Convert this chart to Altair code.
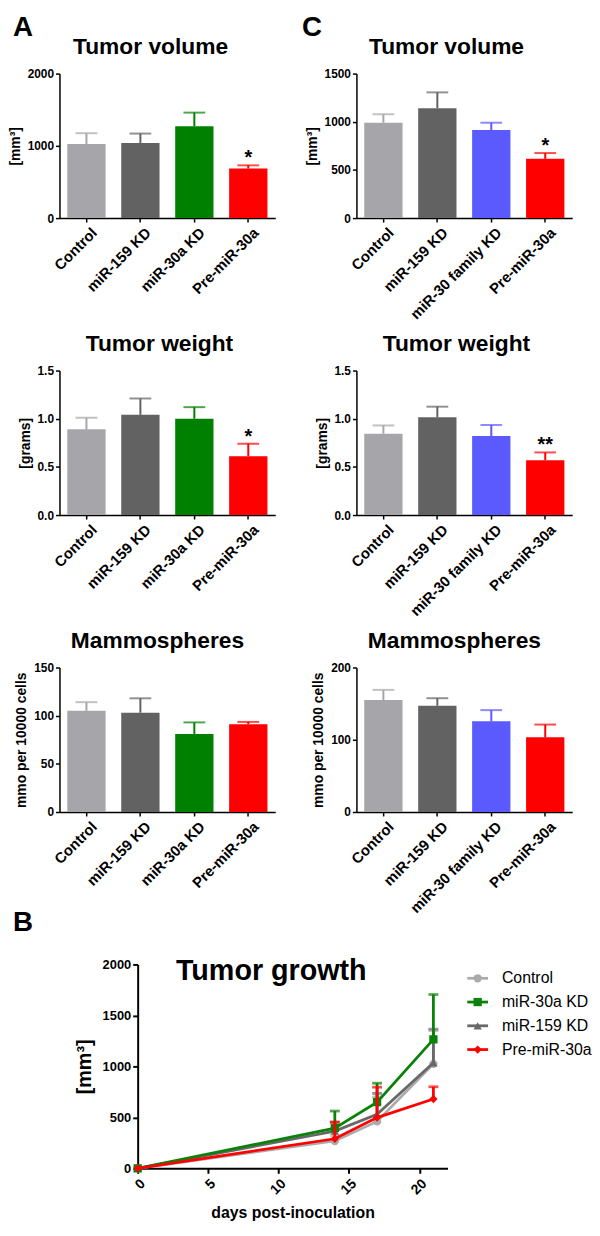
import altair as alt
import pandas as pd

FONT = "Liberation Sans"

# ---------------- data ----------------
groups_A = ["Control", "miR-159 KD", "miR-30a KD", "Pre-miR-30a"]
colors_A = ["#A6A6AA", "#626262", "#008000", "#FF0000"]
groups_C = ["Control", "miR-159 KD", "miR-30 family KD", "Pre-miR-30a"]
colors_C = ["#A6A6AA", "#626262", "#5A5AFF", "#FF0000"]

volA_mean = [1025, 1040, 1270, 685]
volA_upper = [1175, 1170, 1460, 730]
volA_sig = ["", "", "", "*"]
wtA_mean = [0.89, 1.04, 1.00, 0.61]
wtA_upper = [1.01, 1.21, 1.12, 0.74]
wtA_sig = ["", "", "", "*"]
mamA_mean = [105, 103, 81, 91]
mamA_upper = [114, 118, 93, 93.5]
mamA_sig = ["", "", "", ""]

volC_mean = [990, 1140, 915, 615]
volC_upper = [1078, 1305, 990, 675]
volC_sig = ["", "", "", "*"]
wtC_mean = [0.845, 1.015, 0.82, 0.57]
wtC_upper = [0.93, 1.125, 0.935, 0.65]
wtC_sig = ["", "", "", "**"]
mamC_mean = [155, 147, 125.5, 103.5]
mamC_upper = [169, 157.5, 141, 121]
mamC_sig = ["", "", "", ""]

days = [0, 14, 17, 21]
series_B = ["Control", "miR-30a KD", "miR-159 KD", "Pre-miR-30a"]
colors_B = ["#ABABAB", "#0A820A", "#686868", "#FF0000"]
shapes_B = ["circle", "square", "triangle-up", "diamond"]
ctrl_mean = [0, 268, 460, 1025]
ctrl_upper = [0, 320, 700, 1350]
kd30_mean = [0, 395, 650, 1265]
kd30_upper = [0, 562, 835, 1705]
kd159_mean = [0, 365, 530, 1035]
kd159_upper = [0, 450, 735, 1365]
pre_mean = [0, 290, 498, 680]
pre_upper = [0, 455, 796, 800]
draw_order_B = ["Control", "miR-159 KD", "miR-30a KD", "Pre-miR-30a"]


# ---------------- bar panels ----------------
def bar_panel(groups, colors, means, uppers, sigs, title, title_x, ymax, yticks,
              fmt, ytitle, letter=None, letter_x=-47):
    df = pd.DataFrame({"group": groups, "mean": means, "upper": uppers,
                       "sig": sigs, "col": colors})
    x = alt.X("group:N", sort=groups, title=None,
              scale=alt.Scale(paddingInner=0.29, paddingOuter=0.145),
              axis=alt.Axis(labelAngle=-45, labelAlign="right", labelBaseline="top",
                            labelFontSize=15, labelPadding=3, tickSize=4,
                            labelOffset=3, labelLimit=300))
    ys = alt.Scale(domain=[0, ymax], nice=False, zero=True)
    y = alt.Y("mean:Q", scale=ys, title=ytitle,
              axis=alt.Axis(values=yticks, format=fmt, labelFontSize=12,
                            labelOverlap=False, tickSize=4, labelPadding=2,
                            titleFontSize=14, titlePadding=5))
    fill = alt.Color("col:N", scale=None)
    base = alt.Chart(df)
    bars = base.mark_bar().encode(x=x, y=y, color=fill)
    whisk = base.mark_rule(strokeWidth=2).encode(x=x, y="mean:Q", y2="upper:Q", color=fill)
    cap = base.mark_tick(thickness=2, size=22).encode(x=x, y="upper:Q", color=fill)
    star = base.mark_text(fontSize=20, fontWeight="bold", font=FONT,
                          baseline="alphabetic", dy=-1, color="black").encode(
        x=x, y="upper:Q", text="sig:N")
    ttl = alt.Chart(pd.DataFrame({"t": [title]})).mark_text(
        font=FONT, fontSize=23, fontWeight="bold", align="center",
        baseline="middle", color="black").encode(
        x=alt.value(title_x), y=alt.value(-27), text="t:N")
    layers = [bars, whisk, cap, star, ttl]
    if letter:
        lt = alt.Chart(pd.DataFrame({"t": [letter]})).mark_text(
            font=FONT, fontSize=28, fontWeight="bold", align="left",
            baseline="top", color="black").encode(
            x=alt.value(letter_x), y=alt.value(-60), text="t:N")
        layers.append(lt)
    return alt.layer(*layers).properties(width=218, height=146)


A_vol = bar_panel(groups_A, colors_A, volA_mean, volA_upper, volA_sig, "Tumor volume", 92,
                  2000, [0, 500, 1000, 1500, 2000], "d", "[mm³]", letter="A", letter_x=-47)
C_vol = bar_panel(groups_C, colors_C, volC_mean, volC_upper, volC_sig, "Tumor volume", 91,
                  1500, [0, 500, 1000, 1500], "d", "[mm³]", letter="C", letter_x=-55)
A_wt = bar_panel(groups_A, colors_A, wtA_mean, wtA_upper, wtA_sig, "Tumor weight", 101,
                 1.5, [0, 0.5, 1.0, 1.5], ".1f", "[grams]")
C_wt = bar_panel(groups_C, colors_C, wtC_mean, wtC_upper, wtC_sig, "Tumor weight", 101,
                 1.5, [0, 0.5, 1.0, 1.5], ".1f", "[grams]")
A_mam = bar_panel(groups_A, colors_A, mamA_mean, mamA_upper, mamA_sig, "Mammospheres", 99,
                  150, [0, 50, 100, 150], "d", "mmo per 10000 cells")
C_mam = bar_panel(groups_C, colors_C, mamC_mean, mamC_upper, mamC_sig, "Mammospheres", 99,
                  200, [0, 50, 100, 150, 200], "d", "mmo per 10000 cells")

# ---------------- growth panel ----------------
means_B = {"Control": ctrl_mean, "miR-30a KD": kd30_mean,
           "miR-159 KD": kd159_mean, "Pre-miR-30a": pre_mean}
uppers_B = {"Control": ctrl_upper, "miR-30a KD": kd30_upper,
            "miR-159 KD": kd159_upper, "Pre-miR-30a": pre_upper}
rows = []
for s in series_B:
    for d, m, u in zip(days, means_B[s], uppers_B[s]):
        rows.append({"series": s, "day": d, "mean": m, "upper": u})
dfB = pd.DataFrame(rows)

xB = alt.X("day:Q", scale=alt.Scale(domain=[0, 22], range=[79, 392], nice=False),
           title="days post-inoculation",
           axis=alt.Axis(values=[0, 5, 10, 15, 20], labelAngle=-45, labelAlign="right",
                         labelBaseline="top", labelFontSize=14, tickSize=5, tickWidth=2,
                         domainWidth=2, labelPadding=3, titleFontSize=16, titlePadding=8))
yB = alt.Y("mean:Q", scale=alt.Scale(domain=[0, 2000], nice=False),
           title="[mm³]",
           axis=alt.Axis(values=[0, 500, 1000, 1500, 2000], format="d", offset=-79,
                         labelOverlap=False, labelFontSize=13, tickSize=5, tickWidth=2,
                         domainWidth=2, labelPadding=2, titleFontSize=20, titlePadding=8))

layersB = []
for s in draw_order_B:
    i = series_B.index(s)
    c = colors_B[i]
    base = alt.Chart(dfB).transform_filter(alt.datum.series == s)
    layersB.append(base.mark_line(strokeWidth=2.8, color=c).encode(x=xB, y=yB))
    eb = base.transform_filter(alt.datum.day > 0)
    layersB.append(eb.mark_rule(strokeWidth=2.8, color=c).encode(x=xB, y="mean:Q", y2="upper:Q"))
    layersB.append(eb.mark_tick(orient="horizontal", size=10, thickness=2.8, color=c).encode(
        x=xB, y="upper:Q"))
    layersB.append(base.mark_point(filled=True, size=70, opacity=1, color=c,
                                   shape=shapes_B[i]).encode(x=xB, y=yB))

one = pd.DataFrame({"t": ["Tumor growth"]})
titleB = alt.Chart(one).mark_text(font=FONT, fontSize=29, fontWeight="bold",
                                  align="center", baseline="middle", color="black").encode(
    x=alt.value(214), y=alt.value(7), text="t:N")
letterB = alt.Chart(pd.DataFrame({"t": ["B"]})).mark_text(
    font=FONT, fontSize=28, fontWeight="bold", align="left", baseline="alphabetic",
    color="black").encode(x=alt.value(-47), y=alt.value(-34), text="t:N")

B = alt.layer(*layersB, titleB, letterB).properties(width=218, height=206)

# legend for growth panel
leg_df = pd.DataFrame({"series": series_B, "col": colors_B, "shp": shapes_B})
yleg = alt.Y("series:N", scale=alt.Scale(type="point", domain=series_B, range=[14, 86],
                                         padding=0), axis=None)
leg_line = alt.Chart(leg_df).mark_rule(strokeWidth=2.8).encode(
    x=alt.value(112), x2=alt.value(133), y=yleg, color=alt.Color("col:N", scale=None))
leg_pt = alt.Chart(leg_df).mark_point(filled=True, size=70, opacity=1).encode(
    x=alt.value(122.5), y=yleg, color=alt.Color("col:N", scale=None),
    shape=alt.Shape("shp:N", scale=None))
leg_txt = alt.Chart(leg_df).mark_text(align="left", baseline="middle", fontSize=16,
                                      font=FONT, color="black").encode(
    x=alt.value(147), y=yleg, text="series:N")
legend = alt.layer(leg_line, leg_pt, leg_txt).properties(width=60, height=100)

chart = alt.concat(A_vol, C_vol, A_wt, C_wt, A_mam, C_mam, B, legend,
                   columns=2, spacing={"row": 154, "column": 82},
                   bounds="flush",
                   padding={"left": 0, "top": 0, "right": 0, "bottom": 0}
                   ).configure_axis(
    labelFont=FONT, titleFont=FONT, labelFontWeight="bold", titleFontWeight="bold",
    labelColor="black", titleColor="black", domainColor="black", tickColor="black",
    domainWidth=1.5, tickWidth=1.5, grid=False
).configure_view(stroke=None)

chart.save("out.html", embed_options={"renderer": "svg", "actions": False})
